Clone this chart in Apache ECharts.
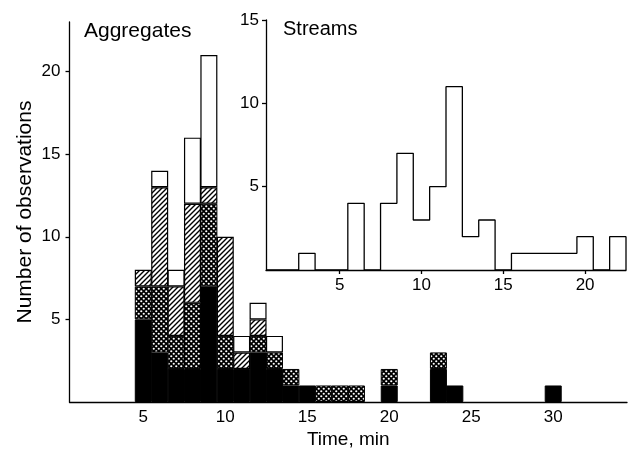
<!DOCTYPE html>
<html><head><meta charset="utf-8">
<script src="https://cdn.jsdelivr.net/npm/echarts@6/dist/echarts.min.js"></script>
<style>html,body{margin:0;padding:0;background:#fff}#c{width:638px;height:450px}</style>
</head><body><div id="c"></div>
<script>
// Aggregates histogram (1-min bins, centred on whole minutes)
const aggTimes = [1,2,3,4,5,6,7,8,9,10,11,12,13,14,15,16,17,18,19,20,21,22,23,24,25,26,27,28,29,30,31,32,33,34];
const aggBlack = [0,0,0,0,5,3,2,2,7,2,2,3,2,1,1,0,0,0,0,1,0,0,2,1,0,0,0,0,0,1,0,0,0,0];
const aggCross = [0,0,0,0,2,4,2,4,5,2,0,1,1,1,0,1,1,1,0,1,0,0,1,0,0,0,0,0,0,0,0,0,0,0];
const aggHatch = [0,0,0,0,1,6,3,6,1,6,1,1,0,0,0,0,0,0,0,0,0,0,0,0,0,0,0,0,0,0,0,0,0,0];
const aggWhite = [0,0,0,0,0,1,1,4,8,0,1,1,1,0,0,0,0,0,0,0,0,0,0,0,0,0,0,0,0,0,0,0,0,0];
const mainXTicks = [5,10,15,20,25,30];
const mainYTicks = [5,10,15,20];

// Streams inset histogram
const streamTimes = [1,2,3,4,5,6,7,8,9,10,11,12,13,14,15,16,17,18,19,20,21,22];
const streamCounts = [0,0,1,0,0,4,0,4,7,3,5,11,2,3,0,1,1,1,1,2,0,2];
const insetXTicks = [5,10,15,20];
const insetYTicks = [5,10,15];

const FONT = 'Liberation Sans, Arial, Helvetica, sans-serif';

function crossPattern(){
  const c = document.createElement('canvas'); c.width = 5; c.height = 5;
  const g = c.getContext('2d');
  g.fillStyle = '#000'; g.fillRect(0,0,5,5);
  g.fillStyle = '#fff';
  [[1.25,1.25],[3.75,3.75]].forEach(p=>{g.beginPath(); g.arc(p[0],p[1],1.1,0,Math.PI*2); g.fill();});
  return c;
}
function hatchPattern(){
  const c = document.createElement('canvas'); c.width = 5; c.height = 5;
  const g = c.getContext('2d');
  g.fillStyle = '#fff'; g.fillRect(0,0,5,5);
  g.strokeStyle = '#000'; g.lineWidth = 1.4;
  g.beginPath();
  g.moveTo(-1,6); g.lineTo(6,-1);
  g.moveTo(-1,1); g.lineTo(1,-1);
  g.moveTo(4,6); g.lineTo(6,4);
  g.stroke();
  return c;
}
const nz = arr => arr.map(v => v === 0 ? null : v);

// step outline of the streams histogram, built from bin counts
const streamPts = [];
streamTimes.forEach((t,i)=>{ streamPts.push([t-0.5, streamCounts[i]]); streamPts.push([t+0.5, streamCounts[i]]); });
streamPts.push([streamTimes[streamTimes.length-1]+0.5, 0]);

const axisLineStyle = {color:'#000', width:1.3};
const barBase = {type:'bar', stack:'agg', xAxisIndex:0, yAxisIndex:0, barWidth:17};

const chart = echarts.init(document.getElementById('c'), null, {renderer:'canvas'});
chart.setOption({
  animation:false,
  textStyle:{fontFamily:FONT, color:'#000'},
  grid:[
    {left:69.5, right:11, top:22, bottom:48, outerBoundsMode:'none', containLabel:false},
    {left:266, right:12, top:20, bottom:180, outerBoundsMode:'none', containLabel:false}
  ],
  xAxis:[
    {type:'category', gridIndex:0, data:aggTimes.map(String), boundaryGap:true,
     axisLine:{lineStyle:axisLineStyle},
     axisTick:{alignWithLabel:true, interval:(i,v)=>mainXTicks.includes(+v), length:4, lineStyle:axisLineStyle},
     axisLabel:{interval:(i,v)=>mainXTicks.includes(+v), color:'#000', fontSize:17, fontFamily:FONT, margin:7},
     splitLine:{show:false},
     name:'Time, min', nameLocation:'middle', nameGap:28, nameMoveOverlap:false,
     nameTextStyle:{fontSize:19, color:'#000', fontFamily:FONT}},
    {type:'value', gridIndex:1, min:0.5, max:22.5,
     axisLine:{lineStyle:axisLineStyle},
     axisTick:{customValues:insetXTicks, length:4, lineStyle:axisLineStyle},
     axisLabel:{customValues:insetXTicks, color:'#000', fontSize:17, fontFamily:FONT, margin:7},
     splitLine:{show:false}}
  ],
  yAxis:[
    {type:'value', gridIndex:0, min:0, max:23,
     axisLine:{show:true, lineStyle:axisLineStyle},
     axisTick:{show:true, customValues:mainYTicks, length:4, lineStyle:axisLineStyle},
     axisLabel:{customValues:mainYTicks, color:'#000', fontSize:17, fontFamily:FONT, margin:9},
     splitLine:{show:false},
     name:'Number of observations', nameLocation:'middle', nameGap:34, nameMoveOverlap:false,
     nameTextStyle:{fontSize:21, color:'#000', fontFamily:FONT}},
    {type:'value', gridIndex:1, min:0, max:15,
     axisLine:{show:true, lineStyle:axisLineStyle},
     axisTick:{show:true, customValues:insetYTicks, length:4, lineStyle:axisLineStyle},
     axisLabel:{customValues:insetYTicks, color:'#000', fontSize:17, fontFamily:FONT, margin:7},
     splitLine:{show:false}}
  ],
  graphic:[
    {type:'text', left:84, top:21, style:{text:'Aggregates', fill:'#000', font:'21px '+FONT}},
    {type:'text', left:283, top:19, style:{text:'Streams', fill:'#000', font:'20px '+FONT}}
  ],
  series:[
    Object.assign({}, barBase, {name:'black', data:nz(aggBlack), itemStyle:{color:'#000', borderColor:'#000', borderWidth:1}}),
    Object.assign({}, barBase, {name:'cross', data:nz(aggCross), itemStyle:{color:{image:crossPattern(), repeat:'repeat'}, borderColor:'#000', borderWidth:1}}),
    Object.assign({}, barBase, {name:'hatch', data:nz(aggHatch), itemStyle:{color:{image:hatchPattern(), repeat:'repeat'}, borderColor:'#000', borderWidth:1.2}}),
    Object.assign({}, barBase, {name:'white', data:nz(aggWhite), itemStyle:{color:'#fff', borderColor:'#000', borderWidth:1.2}}),
    {type:'line', name:'Streams', xAxisIndex:1, yAxisIndex:1, data:streamPts, symbol:'none',
     lineStyle:{color:'#000', width:1.3}, silent:true}
  ]
});
</script></body></html>
